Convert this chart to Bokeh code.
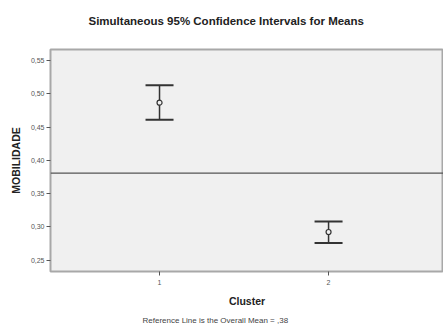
from bokeh.plotting import figure
from bokeh.models import (ColumnDataSource, Whisker, TeeHead, Span, Title,
                          FixedTicker, Range1d)
from bokeh.embed import file_html
from bokeh.resources import INLINE

# ---- data ----
clusters = [1, 2]
means = [0.4866, 0.2925]
upper = [0.5129, 0.3083]
lower = [0.4608, 0.2761]
overall_mean = 0.381
y_ticks = [0.25, 0.30, 0.35, 0.40, 0.45, 0.50, 0.55]
y_tick_labels = ["0,25", "0,30", "0,35", "0,40", "0,45", "0,50", "0,55"]
x_ticks = [1, 2]
title_text = "Simultaneous 95% Confidence Intervals for Means"
x_label = "Cluster"
y_label = "MOBILIDADE"
foot_text = "Reference Line is the Overall Mean = ,38"

FONT = "Liberation Sans"
DARK = "#333333"

src = ColumnDataSource(dict(x=clusters, mean=means, up=upper, lo=lower))

p = figure(width=443, height=329, output_backend="svg", toolbar_location=None,
           title=None,
           x_range=Range1d(0.355, 2.68), y_range=Range1d(0.2332, 0.5664),
           min_border_left=50, min_border_top=49, min_border_right=0,
           min_border_bottom=0)

p.background_fill_color = "#f0f0f0"
p.border_fill_color = "white"
p.outline_line_color = "#a8a8a8"
p.outline_line_width = 2
p.xgrid.visible = False
p.ygrid.visible = False

# axes
p.yaxis.ticker = FixedTicker(ticks=y_ticks)
p.yaxis.major_label_overrides = {t: l for t, l in zip(y_ticks, y_tick_labels)}
p.xaxis.ticker = FixedTicker(ticks=x_ticks)
for ax in (p.xaxis, p.yaxis):
    ax.minor_tick_line_color = None
    ax.major_tick_in = 0
    ax.major_tick_out = 4
    ax.major_tick_line_color = "#555555"
    ax.axis_line_color = "#a8a8a8"
    ax.axis_line_width = 1
    ax.major_label_text_font = FONT
    ax.major_label_text_font_size = "7px"
    ax.major_label_text_color = "#555555"
    ax.major_label_standoff = 2
    ax.axis_label_text_font = FONT
    ax.axis_label_text_font_style = "bold"
    ax.axis_label_text_font_size = "10.5px"
    ax.axis_label_text_color = "#222222"
p.xaxis.axis_label = x_label
p.yaxis.axis_label = y_label
p.xaxis.major_label_standoff = 4
p.xaxis.axis_label_standoff = 7
p.yaxis.axis_label_standoff = 6

# reference line
p.add_layout(Span(location=overall_mean, dimension="width",
                  line_color="#555555", line_width=1.3))

# error bars
p.add_layout(Whisker(source=src, base="x", upper="up", lower="lo",
                     line_color=DARK, line_width=1.5,
                     upper_head=TeeHead(size=28, line_color=DARK, line_width=2),
                     lower_head=TeeHead(size=28, line_color=DARK, line_width=2)))
p.scatter("x", "mean", source=src, size=5, marker="circle",
          fill_color="#f0f0f0", line_color=DARK, line_width=1.2)

# spacer between frame and title, then the title itself
p.add_layout(Title(text=" ", text_font=FONT, text_font_style="bold",
                   text_font_size="11.5px", standoff=8), "above")
p.add_layout(Title(text=title_text, align="left", offset=38,
                   text_font=FONT, text_font_style="bold",
                   text_font_size="11.5px", text_color="#222222",
                   standoff=2), "above")

p.add_layout(Title(text=foot_text, align="left", offset=92,
                   text_font=FONT, text_font_style="normal",
                   text_font_size="8px", text_color="#444444",
                   standoff=9), "below")

open("out.html", "w").write(file_html(p, INLINE))
